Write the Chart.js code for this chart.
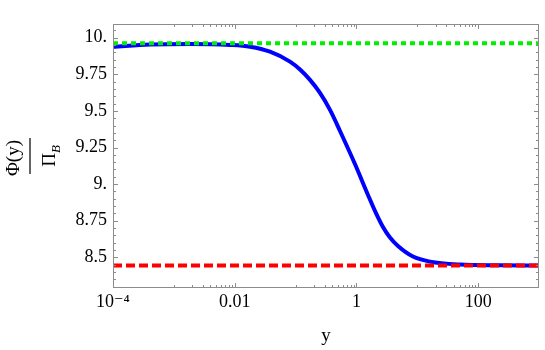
<!DOCTYPE html>
<html>
<head>
<meta charset="utf-8">
<script src="https://cdn.jsdelivr.net/npm/chart.js@4.4.1/dist/chart.umd.min.js"></script>
<style>
  html, body { margin: 0; padding: 0; background: #fff; }
</style>
</head>
<body>
<canvas id="plot" width="545" height="350"></canvas>
<script>
// ===== データ =====
const yVals = [0.0001, 0.000406, 0.00184, 0.00835, 0.0178, 0.038, 0.0809, 0.1183, 0.1726, 0.2518, 0.3678, 0.537, 0.946, 1.549, 2.096, 2.73, 3.559, 4.82, 8.49, 16.17, 50.3, 229, 1000];
const phiVals = [9.939, 9.954, 9.958, 9.951, 9.939, 9.905, 9.837, 9.783, 9.712, 9.623, 9.507, 9.363, 9.137, 8.926, 8.802, 8.707, 8.635, 8.577, 8.505, 8.470, 8.450, 8.445, 8.443];
const upperLimit = 9.962;   // 緑の点線
const lowerLimit = 8.443;   // 赤の破線
const xRange = [1e-4, 1000];
const yRange = [8.29, 10.094];
const xTickValues = [1e-4, 0.01, 1, 100];
const xTickLabels = ["10⁻⁴", "0.01", "1", "100"];
const yTickValues = [8.5, 8.75, 9, 9.25, 9.5, 9.75, 10];
const yTickLabels = ["8.5", "8.75", "9.", "9.25", "9.5", "9.75", "10."];

const serif = "'Liberation Serif', 'DejaVu Serif', serif";

// 枠と内向きの目盛り（Mathematica風）
const framePlugin = {
  id: "frame",
  afterDatasetsDraw(chart) {
    const { ctx, chartArea: a, scales: { x, y } } = chart;
    ctx.save();
    ctx.strokeStyle = "#8c8c8c";
    ctx.lineWidth = 1;
    ctx.beginPath();
    const tickX = (v, len) => {
      const px = Math.round(x.getPixelForValue(v)) + 0.5;
      if (px <= a.left + 1 || px >= a.right - 1) return;
      ctx.moveTo(px, a.bottom); ctx.lineTo(px, a.bottom - len);
      ctx.moveTo(px, a.top); ctx.lineTo(px, a.top + len);
    };
    const tickY = (v, len) => {
      const py = Math.round(y.getPixelForValue(v)) + 0.5;
      if (py <= a.top + 1 || py >= a.bottom - 1) return;
      ctx.moveTo(a.left, py); ctx.lineTo(a.left + len, py);
      ctx.moveTo(a.right, py); ctx.lineTo(a.right - len, py);
    };
    [-3, -1, 1].forEach(e => {
      for (let m = 1; m <= 9; m++) tickX(m * Math.pow(10, e), 3);
    });
    xTickValues.forEach(v => tickX(v, 5));
    for (let k = 166; k <= 201; k++) tickY(k * 0.05, 3);
    yTickValues.forEach(v => tickY(v, 5));
    ctx.stroke();
    ctx.strokeRect(a.left + 0.5, a.top + 0.5, a.right - a.left - 1, a.bottom - a.top - 1);
    ctx.restore();
  }
};

// 縦軸ラベル Φ(y)/Π_B（分数・回転）
const yLabelPlugin = {
  id: "yLabel",
  afterDraw(chart) {
    const { ctx } = chart;
    ctx.save();
    ctx.translate(30, 156);
    ctx.rotate(-Math.PI / 2);
    ctx.fillStyle = "#000";
    ctx.textBaseline = "alphabetic";
    ctx.font = "19px " + serif;
    ctx.textAlign = "center";
    ctx.fillText("Φ(y)", -2, -11);
    ctx.fillRect(-18, -0.6, 36, 1.2);
    ctx.textAlign = "left";
    const wPi = ctx.measureText("Π").width;
    ctx.font = "italic 13px " + serif;
    const wB = ctx.measureText("B").width;
    const start = -(wPi + wB) / 2;
    ctx.font = "19px " + serif;
    ctx.fillText("Π", start, 25);
    ctx.font = "italic 13px " + serif;
    ctx.fillText("B", start + wPi, 30);
    ctx.restore();
  }
};

const curve = yVals.map((v, i) => ({ x: v, y: phiVals[i] }));
const upperLine = xRange.map(v => ({ x: v, y: upperLimit }));
const lowerLine = xRange.map(v => ({ x: v, y: lowerLimit }));

new Chart(document.getElementById("plot"), {
  type: "line",
  data: {
    datasets: [
      { data: lowerLine, borderColor: "#ff0000", borderWidth: 4, borderDash: [9, 4], borderCapStyle: "butt", order: 1 },
      { data: upperLine, borderColor: "#00ee00", borderWidth: 4, borderDash: [5, 4], borderCapStyle: "butt", order: 2 },
      { data: curve, borderColor: "#0000ff", borderWidth: 4, cubicInterpolationMode: "monotone", order: 3 }
    ]
  },
  options: {
    responsive: false,
    devicePixelRatio: 1,
    animation: false,
    layout: { padding: { top: 24, right: 6, left: 0, bottom: 0 } },
    elements: { point: { radius: 0 } },
    plugins: { legend: { display: false }, tooltip: { enabled: false } },
    scales: {
      x: {
        type: "logarithmic",
        min: xRange[0],
        max: xRange[1],
        grid: { display: false, drawTicks: false },
        border: { display: false },
        afterBuildTicks: s => { s.ticks = xTickValues.map(v => ({ value: v })); },
        afterFit: s => { s.height = 62; },
        ticks: {
          autoSkip: false, maxRotation: 0, padding: 3, color: "#000",
          font: { family: serif, size: 18 },
          callback: (v, i) => xTickLabels[i]
        },
        title: { display: true, text: "y", color: "#000", font: { family: serif, size: 19 }, padding: { top: 0, bottom: 3 } }
      },
      y: {
        min: yRange[0],
        max: yRange[1],
        grid: { display: false, drawTicks: false },
        border: { display: false },
        afterBuildTicks: s => { s.ticks = yTickValues.map(v => ({ value: v })); },
        afterFit: s => { s.width = 113; },
        ticks: {
          autoSkip: false, padding: 6, color: "#000",
          font: { family: serif, size: 18 },
          callback: (v, i) => yTickLabels[i]
        }
      }
    }
  },
  plugins: [framePlugin, yLabelPlugin]
});
</script>
</body>
</html>
